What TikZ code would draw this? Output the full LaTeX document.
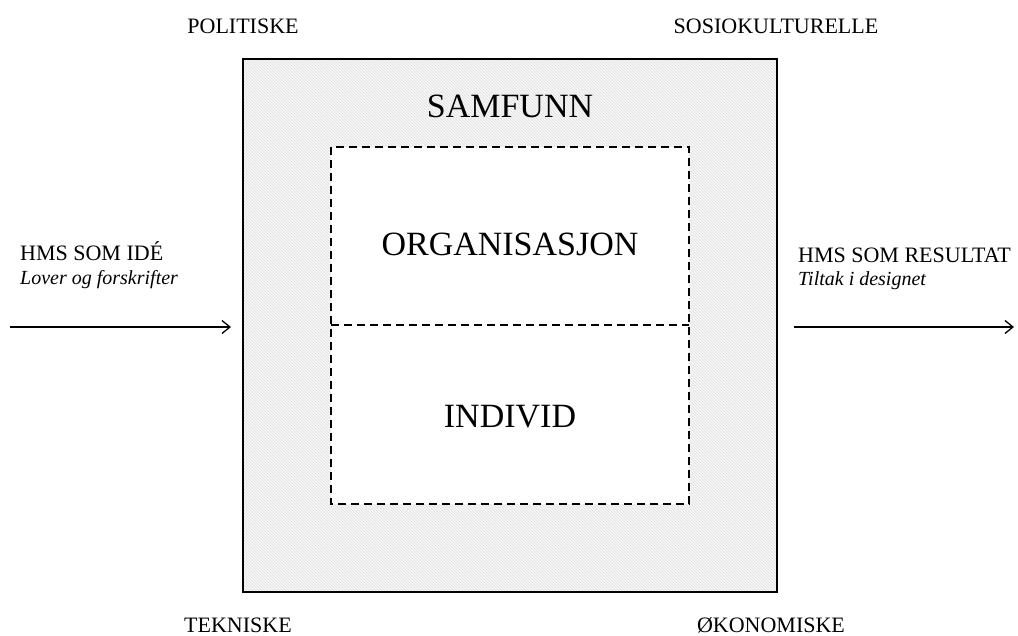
\documentclass[tikz,border=0pt]{standalone}
\usepackage{fontspec}
\setmainfont{Liberation Serif}
\usetikzlibrary{arrows.meta,patterns}
\begin{document}
\begin{tikzpicture}[x=1pt,y=-1pt,
  frame/.style={draw=black,line width=2pt},
  dashbox/.style={draw=black,line width=1.8pt,dash pattern=on 8pt off 5pt},
  flow/.style={draw=black,line width=1.3pt,-{Straight Barb[length=8pt,width=13pt,line width=1.3pt]}},
  corner/.style={font=\fontsize{22}{26}\selectfont,anchor=base},
  side/.style={font=\fontsize{22}{26}\selectfont,anchor=base west,inner sep=0pt},
  sub/.style={font=\fontsize{20}{24}\selectfont\itshape,anchor=base west,inner sep=0pt},
  level/.style={font=\fontsize{34}{40}\selectfont,anchor=base}]
\useasboundingbox (0,0) rectangle (1018,635);
% society frame with hatched fill
\fill[gray!6] (243,59) rectangle (777,592);
\fill[pattern=north west lines,pattern color=gray!25] (243,59) rectangle (777,592);
\draw[frame] (243,59) rectangle (777,592);
% organisation / individual area
\fill[white] (331,147) rectangle (689,504);
\draw[dashbox] (331,147) rectangle (689,504);
\draw[dashbox] (331,325) -- (689,325);
\node[level] (samfunn) at (510,117) {SAMFUNN};
\node[level] (org) at (510,255) {ORGANISASJON};
\node[level] (ind) at (510,427) {INDIVID};
% corner factors
\node[corner] (pol) at (243,33) {POLITISKE};
\node[corner] (sos) at (776,33) {SOSIOKULTURELLE};
\node[corner] (tek) at (238,632) {TEKNISKE};
\node[corner] (oko) at (771,632) {ØKONOMISKE};
% input and output
\node[side] (idea) at (20,260) {HMS SOM IDÉ};
\node[sub] (law) at (20,284) {Lover og forskrifter};
\node[side] (res) at (798,262) {HMS SOM RESULTAT};
\node[sub] (tilt) at (798,285) {Tiltak i designet};
\coordinate (inA) at (10,327);
\coordinate (inB) at (231,327);
\coordinate (outA) at (794,327);
\coordinate (outB) at (1014,327);
\draw[flow] (inA) -- (inB);
\draw[flow] (outA) -- (outB);
\end{tikzpicture}
\end{document}
